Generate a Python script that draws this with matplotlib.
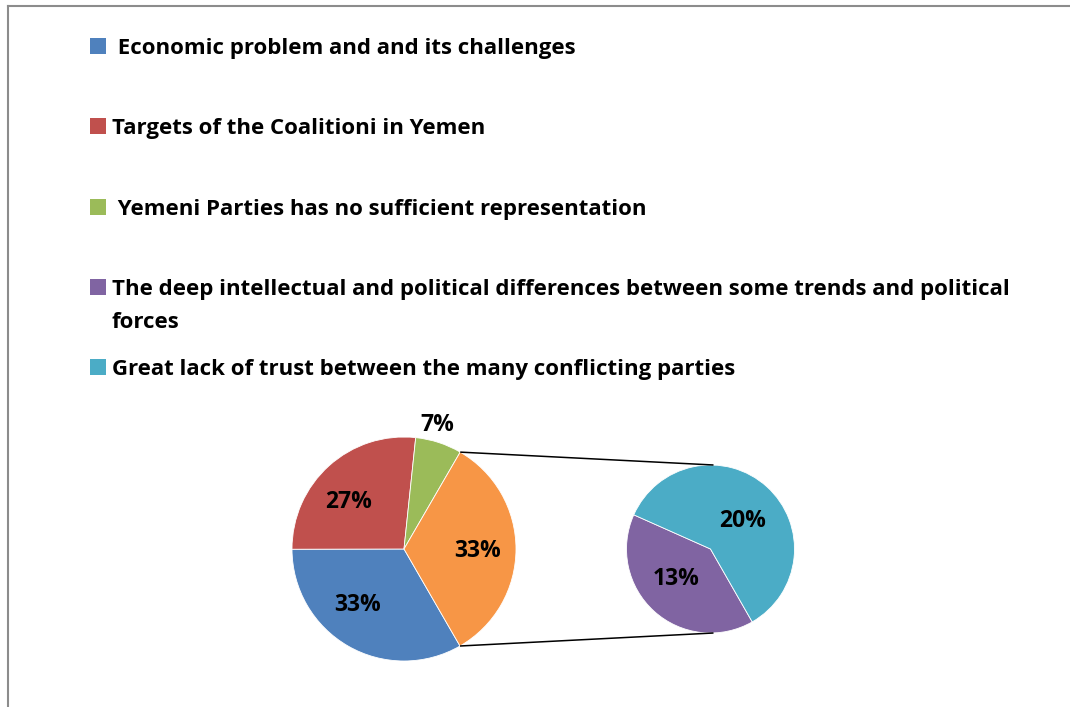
import matplotlib.pyplot as plt
import numpy as np

plt.rcParams['font.family'] = ['Open Sans', 'DejaVu Sans']

W, H = 1070, 707

labels = [' Economic problem and and its challenges',
          'Targets of the Coalitioni in Yemen',
          ' Yemeni Parties has no sufficient representation',
          'The deep intellectual and political differences between some trends and political\nforces',
          'Great lack of trust between the many conflicting parties']
colors = ['#4F81BD', '#C0504D', '#9BBB59', '#8064A2', '#4BACC6']
other_color = '#F79646'

# percent of answers; the last two are pulled out into the second pie
main_values = [33.3, 26.7, 6.7]
split_values = [13.3, 20.0]


def Y(y):
    # pixel rows counted from the top
    return H - y


fig = plt.figure(figsize=(W / 100, H / 100), dpi=100)
ax = fig.add_axes([0, 0, 1, 1])

big_c, big_r = (404, Y(549)), 112
small_c, small_r = (710.5, Y(549)), 84
wp = dict(edgecolor='white', linewidth=0.6)

big_vals = main_values + [sum(split_values)]
wedges1, _ = ax.pie(big_vals, colors=colors[:3] + [other_color],
                    startangle=-60, counterclock=False,
                    center=big_c, radius=big_r, wedgeprops=wp, frame=True)
wedges2, _ = ax.pie(split_values, colors=colors[3:], startangle=156,
                    center=small_c, radius=small_r, wedgeprops=wp, frame=True)

bold = dict(fontsize=16.5, fontweight='bold', ha='center', va='center')


def put_label(w, c, r, val, dang, dist):
    a = np.deg2rad((w.theta1 + w.theta2) / 2 + dang)
    ax.text(c[0] + dist * r * np.cos(a), c[1] + dist * r * np.sin(a),
            f'{val:.0f}%', **bold)


# angle nudge and radial distance for each label
big_pos = [(-9.5, 0.65), (7.5, 0.65), (3, 1.15), (-1.5, 0.66)]
for w, v, (da, d) in zip(wedges1, big_vals, big_pos):
    put_label(w, big_c, big_r, v, da, d)
small_pos = [(-7, 0.54), (-7, 0.51)]
for w, v, (da, d) in zip(wedges2, split_values, small_pos):
    put_label(w, small_c, small_r, v, da, d)

# connector lines from the "other" slice to the second pie
ow = wedges1[3]
for th, sy in [(ow.theta2, 1), (ow.theta1, -1)]:
    a = np.deg2rad(th)
    ax.plot([big_c[0] + big_r * np.cos(a), small_c[0] + 3],
            [big_c[1] + big_r * np.sin(a), small_c[1] + sy * small_r],
            color='black', lw=1.1, solid_capstyle='butt')

# legend; the wrapped entry is anchored on its last line
rows = [46, 126, 207, 287, 367]
for lab, col, ry in zip(labels, colors, rows):
    ax.scatter([97.5], [Y(ry)], marker='s', s=122, color=col, lw=0)
    extra = 33 * lab.count('\n')
    ax.text(112, Y(ry + 8 + extra), lab, fontsize=16, fontweight='bold',
            ha='left', va='baseline', linespacing=1.72)

# chart frame
ax.plot([8, W], [Y(6), Y(6)], color='#8c8c8c', lw=1.5)
ax.plot([8, 8], [Y(6), 0], color='#8c8c8c', lw=1.5)

ax.set_xlim(0, W)
ax.set_ylim(0, H)
ax.axis('off')

fig.savefig('out.png', dpi=100)
